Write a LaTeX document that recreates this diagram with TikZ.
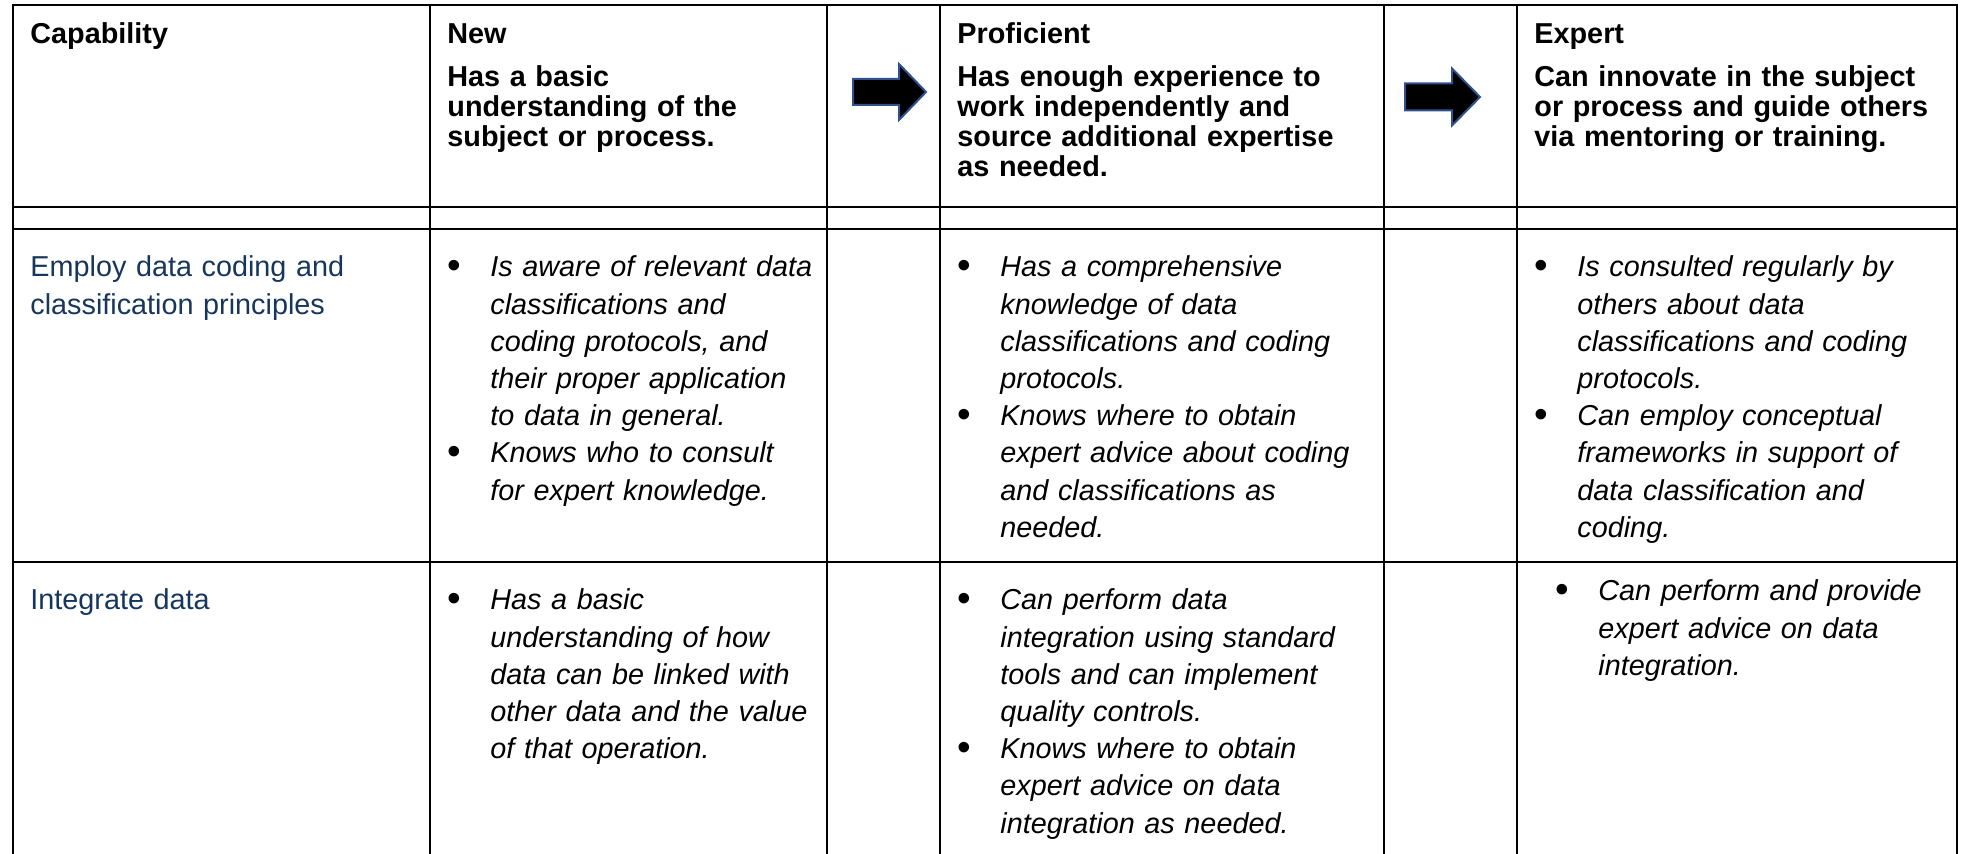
\documentclass[tikz,border=0pt]{standalone}
\usepackage{graphicx}
\usepackage{fontspec}
\setmainfont{Liberation Sans}

\definecolor{capblue}{RGB}{23,54,93}
\definecolor{arrowline}{RGB}{47,82,143}

\newcommand{\hdfont}{\fontsize{14.4}{15}\selectfont\bfseries}
\newcommand{\bdfont}{\fontsize{14.4}{18.6}\selectfont}
\newcommand{\bitem}{\hangindent=21.5pt\hangafter=1\noindent\makebox[21.5pt][l]{\upshape\raisebox{-0.8pt}{\scalebox{1.35}{\textbullet}}}}

\begin{document}
\begin{tikzpicture}[x=0.5pt, y=-0.5pt,
    every node/.style={inner sep=0pt, anchor=base west, align=left},
    tablerule/.style={line width=1.15pt, line cap=rect},
    headcell/.style={font=\hdfont},
    capcell/.style={font=\bdfont, text=capblue},
    bodycell/.style={font=\bdfont\itshape},
    blockarrow/.style={fill=black, draw=arrowline, line width=1pt, line join=miter}]
    \useasboundingbox (0,0) rectangle (1964,854);

    % Table rules
    \foreach \y in {5,207,229,562}
        \draw[tablerule] (13,\y) -- (1957,\y);
    \foreach \x in {13,430,827,940,1384,1517,1957}
        \draw[tablerule] (\x,5) -- (\x,860);

    % Header row
    \node[headcell, text width=195pt] (capH) at (30,44) {Capability};
    \node[headcell, text width=186pt] (newH) at (447,44)
        {New\\[6.5pt]Has a basic\\understanding of the\\subject or process.};
    \node[headcell, text width=209pt] (profH) at (957,44)
        {Proficient\\[6.5pt]Has enough experience to\\work independently and\\source additional expertise\\as needed.};
    \node[headcell, text width=207pt] (expH) at (1534,44)
        {Expert\\[6.5pt]Can innovate in the subject\\or process and guide others\\via mentoring or training.};

    % Level arrows
    \coordinate (arrA) at (853,92);
    \draw[blockarrow] (arrA) ++(0,-13) -- ++(46,0) -- ++(0,-15) -- ++(27,28)
        -- ++(-27,28) -- ++(0,-15) -- ++(-46,0) -- cycle;
    \coordinate (arrB) at (1405,97);
    \draw[blockarrow] (arrB) ++(0,-13.5) -- ++(47,0) -- ++(0,-15) -- ++(28,28.5)
        -- ++(-28,28.5) -- ++(0,-15) -- ++(-47,0) -- cycle;

    % Row: coding and classification
    \node[capcell, text width=195pt] (capA) at (30,277)
        {Employ data coding and\\classification principles};
    \node[bodycell, text width=186pt] (newA) at (447,277)
        {\bitem Is aware of relevant data\newline classifications and\newline coding protocols, and\newline their proper application\newline to data in general.\par
         \bitem Knows who to consult\newline for expert knowledge.\par};
    \node[bodycell, text width=209pt] (profA) at (957,277)
        {\bitem Has a comprehensive\newline knowledge of data\newline classifications and coding\newline protocols.\par
         \bitem Knows where to obtain\newline expert advice about coding\newline and classifications as\newline needed.\par};
    \node[bodycell, text width=207pt] (expA) at (1534,277)
        {\bitem Is consulted regularly by\newline others about data\newline classifications and coding\newline protocols.\par
         \bitem Can employ conceptual\newline frameworks in support of\newline data classification and\newline coding.\par};

    % Row: integration
    \node[capcell, text width=195pt] (capB) at (30,610) {Integrate data};
    \node[bodycell, text width=186pt] (newB) at (447,610)
        {\bitem Has a basic\newline understanding of how\newline data can be linked with\newline other data and the value\newline of that operation.\par};
    \node[bodycell, text width=209pt] (profB) at (957,610)
        {\bitem Can perform data\newline integration using standard\newline tools and can implement\newline quality controls.\par
         \bitem Knows where to obtain\newline expert advice on data\newline integration as needed.\par};
    \node[bodycell, text width=190pt] (expB) at (1555,601)
        {\bitem Can perform and provide\newline expert advice on data\newline integration.\par};
\end{tikzpicture}
\end{document}
